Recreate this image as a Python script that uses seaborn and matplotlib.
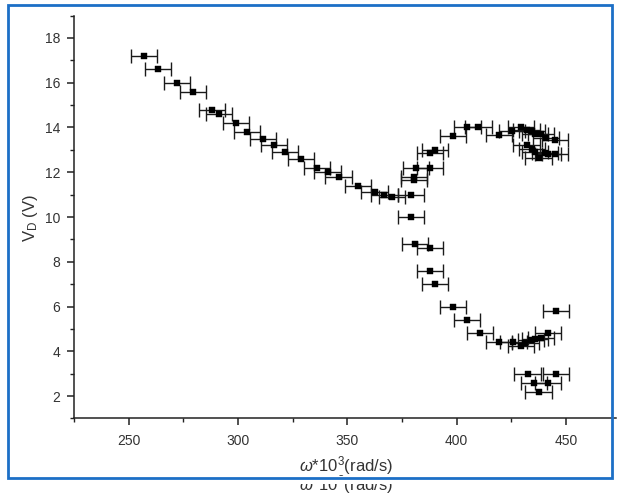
import matplotlib
matplotlib.use("Agg")
import matplotlib.pyplot as plt
from matplotlib.patches import Rectangle
from matplotlib.ticker import MultipleLocator
import seaborn as sns
import pandas as pd

# Angular frequency (x10^3 rad/s) and measured voltage V_D (V)
omega = [257, 263.5, 272, 279.5, 288, 291.5, 299, 304, 311.5, 316.5,
         321.5, 329, 336, 341, 346, 355, 362.5, 367, 370.5, 379,
         380.5, 380.7, 381.5, 388, 387.8, 390, 398.5, 405, 410,
         419.5, 425.5, 429.5, 432, 434.5, 436, 438.5, 441, 445,
         432, 434.5, 436, 437.5, 440.5, 442, 445,
         379, 381, 387.7, 387.7, 390, 398.4, 404.8, 410.6,
         419.5, 426, 429.5, 431.5, 434, 436, 438.5, 442, 445.5,
         432.5, 445.5, 435.5, 442, 437.5]
v_d = [17.2, 16.6, 16.0, 15.6, 14.8, 14.6, 14.2, 13.8, 13.5, 13.2,
       12.9, 12.6, 12.2, 12.0, 11.8, 11.4, 11.1, 11.0, 10.9, 11.0,
       11.8, 11.65, 12.2, 12.2, 12.85, 13.0, 13.6, 14.0, 14.0,
       13.65, 13.85, 14.0, 13.9, 13.85, 13.7, 13.7, 13.55, 13.45,
       13.2, 13.05, 12.9, 12.65, 12.85, 12.8, 12.8,
       10.0, 8.8, 8.6, 7.6, 7.0, 6.0, 5.4, 4.8,
       4.4, 4.4, 4.25, 4.35, 4.5, 4.55, 4.6, 4.8, 5.8,
       3.0, 3.0, 2.6, 2.6, 2.2]
omega_err = 6.0

x_ticks = [250, 300, 350, 400, 450]
y_ticks = [2, 4, 6, 8, 10, 12, 14, 16, 18]

df = pd.DataFrame({"omega": omega, "vd": v_d})

sns.set_theme(style="ticks")
plt.rcParams["font.family"] = ["Liberation Sans", "DejaVu Sans"]
plt.rcParams["mathtext.fontset"] = "custom"
plt.rcParams["mathtext.rm"] = "Liberation Sans"
plt.rcParams["mathtext.it"] = "Liberation Sans:italic"

W, H = 621, 498
fig = plt.figure(figsize=(W / 100, H / 100), dpi=100)
fig.patch.set_facecolor("white")

px_per_x = 2.186
ax_left, ax_right = 74, 74 + 248 * px_per_x
ax_top, ax_bottom = 15.6, 418.4
ax = fig.add_axes([ax_left / W, 1 - ax_bottom / H,
                   (ax_right - ax_left) / W, (ax_bottom - ax_top) / H])

ax.errorbar(df["omega"], df["vd"], xerr=omega_err, fmt="none",
            ecolor="#1a1a1a", elinewidth=1.0, capsize=5, capthick=1.0,
            zorder=2)
sns.scatterplot(data=df, x="omega", y="vd", marker="s", s=22,
                color="black", edgecolor="black", linewidth=0.3,
                ax=ax, zorder=3, legend=False)

ax.set_xlim(225, 473)
ax.set_ylim(1, 19)
ax.set_xticks(x_ticks)
ax.set_yticks(y_ticks)
ax.xaxis.set_minor_locator(MultipleLocator(25))
ax.yaxis.set_minor_locator(MultipleLocator(1))

for side in ("top", "right"):
    ax.spines[side].set_visible(False)
for side in ("left", "bottom"):
    ax.spines[side].set_linewidth(1.1)
    ax.spines[side].set_color("#222222")

ax.tick_params(axis="both", which="major", direction="out", length=5,
               width=1.1, color="#222222", labelsize=10, labelcolor="#333333")
ax.tick_params(axis="both", which="minor", direction="out", length=3,
               width=1.0, color="#222222")
ax.tick_params(axis="x", which="major", pad=6)
ax.tick_params(axis="y", which="major", pad=5)

ax.set_xlabel("")
ax.set_ylabel("")
fig.text(30 / W, 1 - 218 / H, r"V$_\mathregular{D}$ (V)", rotation=90,
         ha="center", va="center", fontsize=12, color="#333333")
xlabel = r"$\omega$*10$^\mathregular{3}$(rad/s)"
fig.text(346 / W, 1 - 466 / H, xlabel, ha="center", va="center",
         fontsize=12, color="#333333")

# repeated axis caption below the frame, its upper part hidden
fig.text(346 / W, 2 / H, xlabel, ha="center", va="bottom",
         fontsize=12, color="#333333", zorder=1)
fig.add_artist(Rectangle((0, 1 - 484 / H), 1, 8 / H,
                         transform=fig.transFigure, facecolor="white",
                         edgecolor="none", zorder=5))

# blue border frame
fig.add_artist(Rectangle((7.5 / W, 1 - 478 / H), 604.5 / W, 473 / H,
                         transform=fig.transFigure, facecolor="none",
                         edgecolor="#1c6fc6", linewidth=2.0, zorder=6))

fig.savefig("out.png", dpi=100, facecolor="white")
